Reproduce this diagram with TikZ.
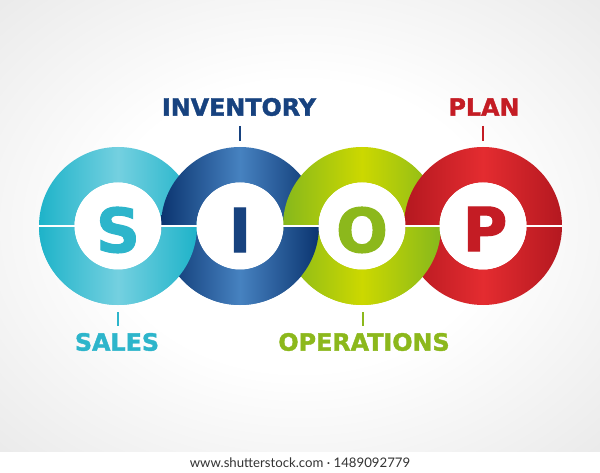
\documentclass[tikz,border=0pt]{standalone}
\usepackage{fontspec}
\setmainfont{DejaVu Sans}
\newfontfamily\heavyfont{DejaVu Sans Bold}[FakeBold=1.6]
\newfontfamily\footfont{Lato}
\definecolor{cyD}{HTML}{1EB3C9}
\definecolor{cyL}{HTML}{74D0E0}
\definecolor{blD}{HTML}{0B3470}
\definecolor{blL}{HTML}{4682C0}
\definecolor{grD}{HTML}{86B81C}
\definecolor{grL}{HTML}{CCD800}
\definecolor{rdD}{HTML}{B41820}
\definecolor{rdL}{HTML}{E42C30}
\definecolor{bgG}{HTML}{EAEAEA}
\definecolor{footC}{HTML}{333333}
\definecolor{txtC}{HTML}{2DB5CB}
\definecolor{txtB}{HTML}{17427F}
\definecolor{txtG}{HTML}{8CB81C}
\definecolor{txtR}{HTML}{C41C24}
\pgfdeclareradialshading{bgshade}{\pgfpoint{0bp}{0bp}}{color(0bp)=(white); color(16bp)=(white); color(36bp)=(bgG); color(50bp)=(bgG)}
\begin{document}
\begin{tikzpicture}[x=1pt,y=-1pt,
  ringC/.style={even odd rule,left color=cyD,right color=cyD,middle color=cyL},
  ringB/.style={even odd rule,left color=blD,right color=blD,middle color=blL},
  ringG/.style={even odd rule,left color=grD,right color=grD,middle color=grL},
  ringR/.style={even odd rule,left color=rdD,right color=rdD,middle color=rdL},
  bigletter/.style={inner sep=0pt,font=\heavyfont\fontsize{61}{61}\selectfont},
  label/.style={inner sep=0pt,font=\heavyfont\fontsize{23.8}{24}\selectfont},
  tick/.style={line width=1.2pt}]
\useasboundingbox (0,0) rectangle (600,473);
% background
\shade[shading=bgshade] (0,0) rectangle (600,452);
\fill[white] (0,452) rectangle (600,473);
% centres
\coordinate (c1) at (118,226);
\coordinate (c2) at (240,226);
\coordinate (c3) at (362,226);
\coordinate (c4) at (483,226);
% rings, upper half order: right over left
\path[ringC] (c1) circle[radius=79pt] (c1) circle[radius=43.5pt];
\path[ringB] (c2) circle[radius=79pt] (c2) circle[radius=43.5pt];
\path[ringG] (c3) circle[radius=79pt] (c3) circle[radius=43.5pt];
\path[ringR] (c4) circle[radius=79pt] (c4) circle[radius=43.5pt];
% lower half: left over right
\begin{scope}
  \clip (0,226) rectangle (600,473);
  \path[ringG] (c3) circle[radius=79pt] (c3) circle[radius=43.5pt];
  \path[ringB] (c2) circle[radius=79pt] (c2) circle[radius=43.5pt];
  \path[ringC] (c1) circle[radius=79pt] (c1) circle[radius=43.5pt];
\end{scope}
% white holes
\foreach \c in {c1,c2,c3,c4} \fill[white] (\c) circle[radius=43.5pt];
% white dividing line
\coordinate (lineL) at (38,226);
\coordinate (lineR) at (562,226);
\draw[white,line width=1.5pt] (lineL) -- (lineR);
% big letters
\node[bigletter,text=txtC] (S) at (118,230) {S};
\node[bigletter,text=txtB] (I) at (240,230) {I};
\node[bigletter,text=txtG] (O) at (362,230) {O};
\node[bigletter,text=txtR] (P) at (485,229) {P};
% labels
\node[label,text=txtB] (inv) at (239,107) {INVENTORY};
\node[label,text=txtR] (plan) at (484,107) {PLAN};
\node[label,text=txtC] (sales) at (117,342) {SALES};
\node[label,text=txtG] (ops) at (364,342) {OPERATIONS};
% ticks
\coordinate (t1a) at (240,126); \coordinate (t1b) at (240,141);
\coordinate (t2a) at (483,126); \coordinate (t2b) at (483,141);
\coordinate (t3a) at (118,312); \coordinate (t3b) at (118,326);
\coordinate (t4a) at (363,312); \coordinate (t4b) at (363,326);
\draw[tick,draw=txtB] (t1a) -- (t1b);
\draw[tick,draw=txtR] (t2a) -- (t2b);
\draw[tick,draw=txtC] (t3a) -- (t3b);
\draw[tick,draw=txtG] (t4a) -- (t4b);
% footer
\node[inner sep=0pt,font=\footfont\fontsize{13.2}{14}\selectfont,text=footC] (footer) at (300,463) {www.shutterstock.com · 1489092779};
\end{tikzpicture}
\end{document}
